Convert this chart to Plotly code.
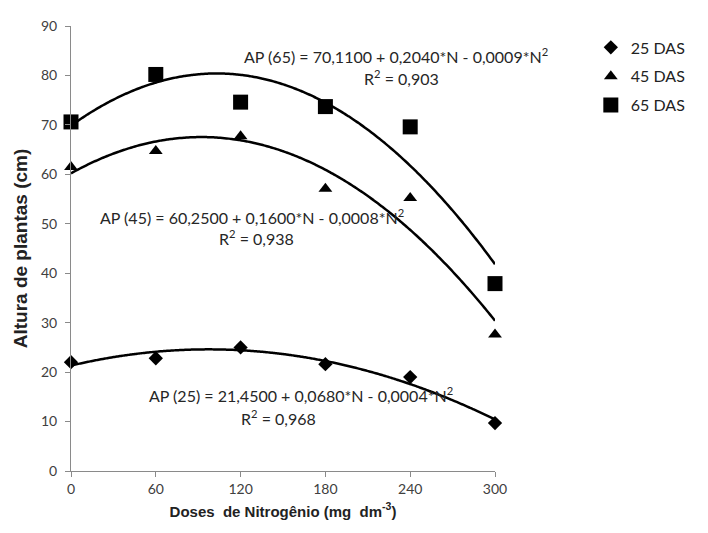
import numpy as np
import plotly.graph_objects as go

doses = [0, 60, 120, 180, 240, 300]
das25 = [22.0, 22.8, 25.0, 21.6, 19.0, 9.7]
das45 = [61.5, 64.7, 67.7, 57.1, 55.2, 27.6]
das65 = [70.6, 80.2, 74.6, 73.7, 69.6, 37.9]
series_names = ["25 DAS", "45 DAS", "65 DAS"]
x_ticks = [0, 60, 120, 180, 240, 300]
y_ticks = [0, 10, 20, 30, 40, 50, 60, 70, 80, 90]

eq_texts = [
    "AP (25) = 21,4500 + 0,0680*N - 0,0004*N<sup>2</sup>",
    "AP (45) = 60,2500 + 0,1600*N - 0,0008*N<sup>2</sup>",
    "AP (65) = 70,1100 + 0,2040*N - 0,0009*N<sup>2</sup>",
]
r2_texts = ["R<sup>2</sup> = 0,968", "R<sup>2</sup> = 0,938", "R<sup>2</sup> = 0,903"]

symbols = ["diamond", "triangle-up", "square"]
sizes = [11, 12, 15]

fig = go.Figure()
xs = np.linspace(0, 300, 200)
for vals in [das25, das45, das65]:
    coef = np.polyfit(doses, vals, 2)
    fig.add_trace(go.Scatter(x=xs, y=np.polyval(coef, xs), mode="lines",
                             line=dict(color="black", width=2.5, shape="spline"),
                             showlegend=False, hoverinfo="skip", cliponaxis=False))
for i, vals in enumerate([das25, das45, das65]):
    fig.add_trace(go.Scatter(x=doses, y=vals, mode="markers", name=series_names[i],
                             marker=dict(symbol=symbols[i], size=sizes[i], color="black"),
                             legendgroup=series_names[i], cliponaxis=False))

# equation annotations
eq_pos = [(162.7, 15.5), (128, 51.5), (230, 84.1)]
r2_pos = [(147, 10.9), (131.6, 47.2), (233.5, 79.5)]
for i in range(3):
    fig.add_annotation(x=eq_pos[i][0], y=eq_pos[i][1], text=eq_texts[i], showarrow=False,
                       font=dict(family="Lato", size=16, color="#262626"), xanchor="center", yanchor="middle")
    fig.add_annotation(x=r2_pos[i][0], y=r2_pos[i][1], text=r2_texts[i], showarrow=False,
                       font=dict(family="Lato", size=16, color="#262626"), xanchor="center", yanchor="middle")

axis_common = dict(showgrid=False, zeroline=False, showline=True, linecolor="#8a8a8a",
                   linewidth=1, ticks="outside", ticklen=5, tickcolor="#8a8a8a",
                   ticklabeloverflow="allow",
                   tickfont=dict(family="Lato", size=14, color="#404040"))
fig.update_xaxes(range=[0, 300], tickvals=x_ticks,
                 title=dict(text="<b>Doses  de Nitrogênio (mg  dm<sup>-3</sup>)</b>",
                            font=dict(family="Liberation Sans", size=15, color="#222"), standoff=10),
                 **axis_common)
fig.update_yaxes(range=[0, 90], tickvals=y_ticks, ticklabelstandoff=5,
                 title=dict(text="<b>Altura de plantas (cm)</b>",
                            font=dict(family="Liberation Sans", size=19, color="#222"), standoff=8),
                 **axis_common)

fig.update_layout(
    width=708, height=533,
    margin=dict(l=63, r=221, t=9, b=70),
    plot_bgcolor="white", paper_bgcolor="white",
    legend=dict(x=1.226, y=0.99, xanchor="left", yanchor="top",
                font=dict(family="Lato", size=16, color="#222"),
                tracegroupgap=5, itemwidth=30, bgcolor="rgba(0,0,0,0)"),
)
fig.write_html("out.html")
